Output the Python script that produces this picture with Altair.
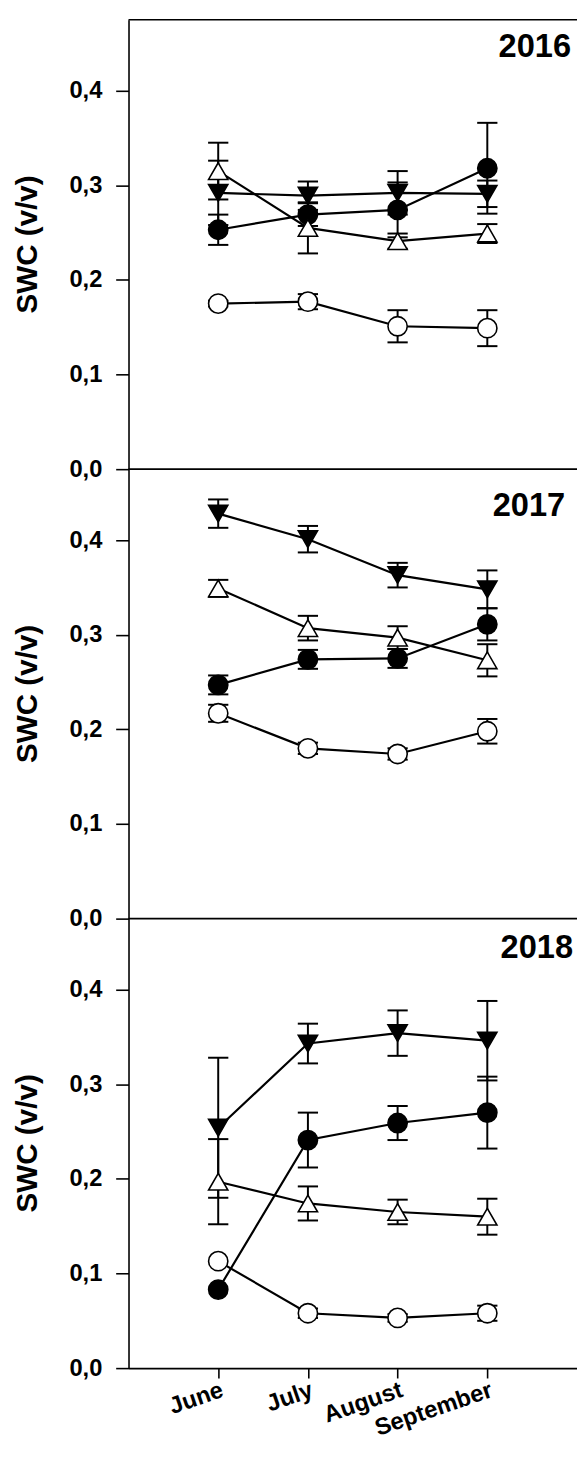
import json
import altair as alt
import pandas as pd

FONT = "Liberation Sans"

months = ["June", "July", "August", "September"]
month_pos = [1, 2, 3, 4]
years = ["2016", "2017", "2018"]
series = ["filled circle", "open circle", "filled triangle", "open triangle"]
y_ticks = [0.0, 0.1, 0.2, 0.3, 0.4]

# 2016
fc_2016 = [0.253, 0.269, 0.274, 0.318]
fc_2016_err = [0.016, 0.012, 0.029, 0.048]
oc_2016 = [0.175, 0.177, 0.151, 0.149]
oc_2016_err = [0.003, 0.008, 0.017, 0.019]
dt_2016 = [0.292, 0.289, 0.292, 0.291]
dt_2016_err = [0.034, 0.015, 0.023, 0.014]
ut_2016 = [0.315, 0.255, 0.241, 0.249]
ut_2016_err = [0.030, 0.027, 0.008, 0.010]

# 2017
fc_2017 = [0.247, 0.274, 0.275, 0.311]
fc_2017_err = [0.010, 0.010, 0.010, 0.017]
oc_2017 = [0.217, 0.180, 0.174, 0.198]
oc_2017_err = [0.009, 0.006, 0.006, 0.013]
dt_2017 = [0.428, 0.401, 0.363, 0.348]
dt_2017_err = [0.015, 0.014, 0.013, 0.020]
ut_2017 = [0.349, 0.307, 0.297, 0.273]
ut_2017_err = [0.009, 0.013, 0.012, 0.017]

# 2018
fc_2018 = [0.083, 0.241, 0.259, 0.270]
fc_2018_err = [0.0, 0.029, 0.018, 0.038]
oc_2018 = [0.113, 0.058, 0.053, 0.058]
oc_2018_err = [0.0, 0.005, 0.004, 0.008]
dt_2018 = [0.254, 0.343, 0.354, 0.346]
dt_2018_err = [0.074, 0.021, 0.024, 0.042]
ut_2018 = [0.197, 0.174, 0.165, 0.160]
ut_2018_err = [0.045, 0.018, 0.013, 0.019]

table = {
    "2016": [(fc_2016, fc_2016_err), (oc_2016, oc_2016_err), (dt_2016, dt_2016_err), (ut_2016, ut_2016_err)],
    "2017": [(fc_2017, fc_2017_err), (oc_2017, oc_2017_err), (dt_2017, dt_2017_err), (ut_2017, ut_2017_err)],
    "2018": [(fc_2018, fc_2018_err), (oc_2018, oc_2018_err), (dt_2018, dt_2018_err), (ut_2018, ut_2018_err)],
}

# panels stacked in one plot: each panel spans PANEL units of the y scale
PANEL = 0.475
offset = {yr: (len(years) - 1 - i) * PANEL for i, yr in enumerate(years)}

rows = []
for yr in years:
    o = offset[yr]
    for s, (vals, errs) in zip(series, table[yr]):
        for m, xp, v, e in zip(months, month_pos, vals, errs):
            rows.append({"year": yr, "series": s, "key": yr + s, "month": m, "x": xp,
                         "val": v, "err": e, "yv": v + o, "lo": v - e + o, "hi": v + e + o})
df = pd.DataFrame(rows)

W = 454
PH = 455                      # pixel height of one panel
H = PH * len(years)
BLACK = "#000000"

tick_values = [round(offset[yr] + t, 4) for yr in years for t in y_ticks]
ylabel_expr = "replace(format((datum.value + 0.001) % " + str(PANEL) + ", '.1f'), '.', ',')"
xlabel_expr = json.dumps(months) + "[datum.value - 1]"

xscale = alt.Scale(domain=[0, 5], nice=False, zero=False)
yscale = alt.Scale(domain=[0, PANEL * len(years)], nice=False, zero=True)

yaxis = alt.Axis(
    values=tick_values, labelExpr=ylabel_expr, title=None,
    labelFont=FONT, labelFontSize=24, labelFontWeight="bold", labelColor=BLACK,
    tickSize=13, tickWidth=1.6, tickColor=BLACK, domainWidth=1.6, domainColor=BLACK,
    labelPadding=14, grid=False, labelOverlap=False, labelFlush=False,
)
xaxis = alt.Axis(
    values=month_pos, labelExpr=xlabel_expr, title=None, grid=False,
    labelAngle=-19, labelAlign="right", labelBaseline="top", labelPadding=0,
    labelFont=FONT, labelFontSize=24, labelFontWeight="bold", labelColor=BLACK,
    tickSize=10, tickWidth=1.6, tickColor=BLACK, domainWidth=1.6, domainColor=BLACK,
    labelOverlap=False, labelFlush=False,
)

X = alt.X("x:Q", scale=xscale, axis=xaxis)


def Y(f):
    return alt.Y(f"{f}:Q", scale=yscale, axis=yaxis)


base = alt.Chart(df)
eb = base.transform_filter("datum.err > 0")
rule = eb.mark_rule(color=BLACK, strokeWidth=2).encode(x=X, y=Y("lo"), y2="hi:Q")
cap_hi = eb.mark_point(shape="M-1,0H1", size=420, filled=False, color=BLACK,
                       strokeWidth=2, opacity=1).encode(x=X, y=Y("hi"))
cap_lo = eb.mark_point(shape="M-1,0H1", size=420, filled=False, color=BLACK,
                       strokeWidth=2, opacity=1).encode(x=X, y=Y("lo"))
line = base.mark_line(color=BLACK, strokeWidth=2.2).encode(
    x=X, y=Y("yv"), detail="key:N", order="x:Q")
pts = base.mark_point(filled=True, opacity=1, stroke=BLACK, strokeWidth=1.6).encode(
    x=X, y=Y("yv"),
    shape=alt.Shape("series:N", scale=alt.Scale(domain=series,
                    range=["circle", "circle", "triangle-down", "triangle-up"]), legend=None),
    fill=alt.Fill("series:N", scale=alt.Scale(domain=series,
                  range=[BLACK, "#ffffff", BLACK, "#ffffff"]), legend=None),
    size=alt.Size("series:N", scale=alt.Scale(domain=series,
                  range=[380, 380, 480, 480]), legend=None),
)

# panel separators and top frame line
sep_df = pd.DataFrame({"b": [offset[yr] + PANEL for yr in years]})
seps = alt.Chart(sep_df).mark_rule(color=BLACK, strokeWidth=1.6).encode(
    y=alt.Y("b:Q", scale=yscale, axis=yaxis))

# y axis titles, one per panel
title_df = pd.DataFrame({"c": [offset[yr] + PANEL / 2 for yr in years],
                         "t": ["SWC (v/v)"] * len(years)})
titles = alt.Chart(title_df).mark_text(
    angle=270, align="center", baseline="alphabetic", font=FONT, fontSize=30,
    fontWeight="bold", color=BLACK).encode(
    text="t:N", y=alt.Y("c:Q", scale=yscale, axis=yaxis), x=alt.value(-93))

# year labels (top right of each panel)
year_layers = []
year_px = {"2016": (448, 28), "2017": (442, PH + 37), "2018": (450, 2 * PH + 30)}
for yr in years:
    xp, yp = year_px[yr]
    year_layers.append(
        alt.Chart(pd.DataFrame({"t": [yr]})).mark_text(
            align="right", baseline="middle", font=FONT, fontSize=33, fontWeight="bold",
            color=BLACK).encode(text="t:N", x=alt.value(xp), y=alt.value(yp)))

chart = alt.layer(rule, cap_hi, cap_lo, line, pts, seps, titles, *year_layers).properties(
    width=W, height=H,
    autosize=alt.AutoSizeParams(type="none"),
    padding={"left": 122, "top": 3, "right": 0, "bottom": 68},
).configure(font=FONT).configure_view(stroke=None)

chart.save("out.html", embed_options={"renderer": "svg", "actions": False})
